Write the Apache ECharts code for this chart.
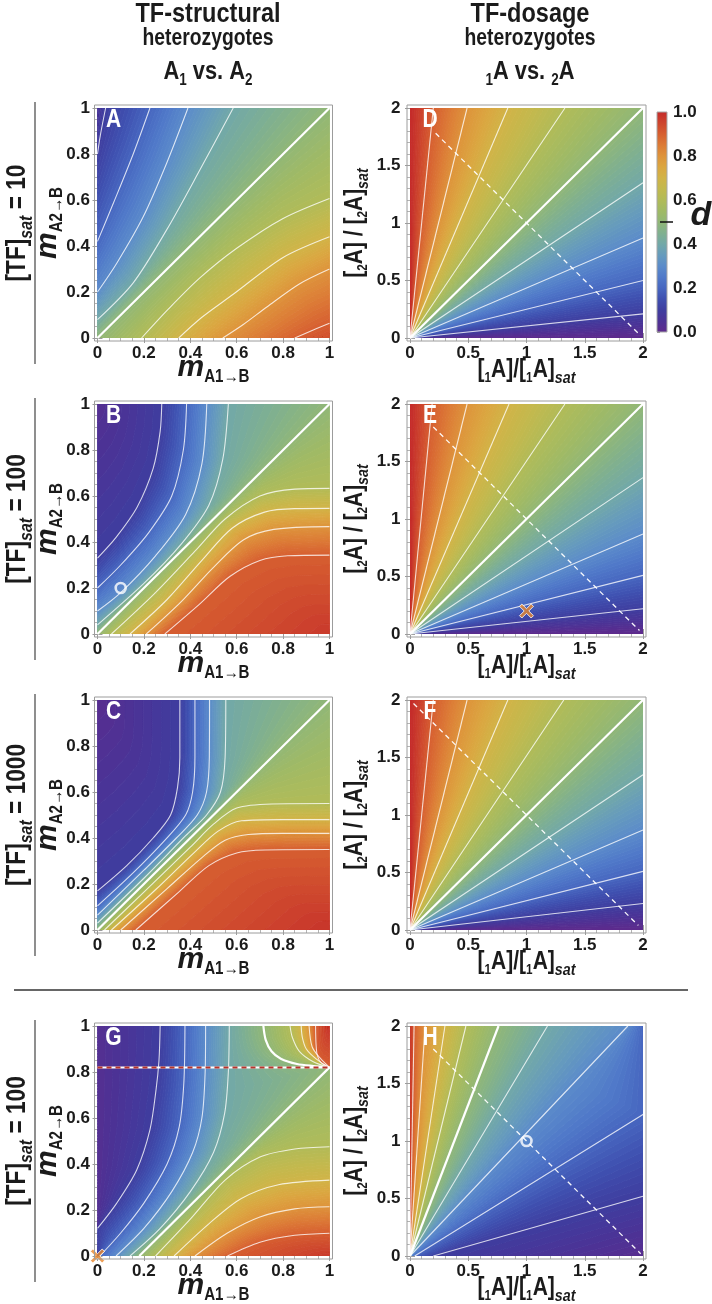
<!DOCTYPE html>
<html>
<head>
<meta charset="utf-8">
<script src="https://cdn.jsdelivr.net/npm/echarts@6.0.0/dist/echarts.min.js"></script>
<style>
html,body{margin:0;padding:0;background:#ffffff;}
#chart{width:712px;height:1304px;}
</style>
</head>
<body>
<div id="chart"></div>
<script>
// ================= DATA =================
const rowTFsat = ['10', '100', '1000', '100'];
const panelLetters = ['A', 'D', 'B', 'E', 'C', 'F', 'G', 'H'];
const structuralTicks = [0, 0.2, 0.4, 0.6, 0.8, 1];
const dosageTicks = [0, 0.5, 1, 1.5, 2];
const colorbarTicks = [0, 0.2, 0.4, 0.6, 0.8, 1.0];
const colorbarMark = 0.5;

// Each panel: ordered iso-boundaries of d (level list) and their polylines [x, y].
// Single points are corners, polylines at non-contour levels are panel edges.
const A_levels = [0.06, 0.1, 0.2, 0.3, 0.4, 0.5, 0.6, 0.7, 0.8, 0.9, 0.93];
const A_curves = [
  [[0, 1]],
  [[0, 0.80], [0.012, 0.88], [0.035, 1]],
  [[0, 0.42], [0.07, 0.59], [0.154, 0.80], [0.226, 1]],
  [[0, 0.20], [0.083, 0.325], [0.197, 0.527], [0.298, 0.76], [0.39, 1]],
  [[0, 0.08], [0.154, 0.24], [0.298, 0.47], [0.441, 0.73], [0.585, 1]],
  [[0, 0], [1, 1]],
  [[0.19, 0], [0.3, 0.12], [0.44, 0.26], [0.6, 0.39], [0.8, 0.52], [1, 0.607]],
  [[0.35, 0], [0.45, 0.09], [0.585, 0.19], [0.8, 0.35], [1, 0.44]],
  [[0.54, 0], [0.63, 0.06], [0.73, 0.135], [0.87, 0.235], [1, 0.30]],
  [[0.85, 0], [0.93, 0.035], [1, 0.064]],
  [[1, 0]]
];

const B_levels = [0.03, 0.1, 0.2, 0.3, 0.4, 0.5, 0.6, 0.7, 0.8, 0.9, 0.97];
const B_curves = [
  [[0, 1]],
  [[0, 0.33], [0.08, 0.42], [0.17, 0.55], [0.24, 0.72], [0.27, 0.88], [0.277, 1]],
  [[0, 0.20], [0.1, 0.30], [0.22, 0.44], [0.32, 0.60], [0.37, 0.80], [0.384, 1]],
  [[0, 0.10], [0.1, 0.18], [0.25, 0.34], [0.38, 0.52], [0.45, 0.74], [0.471, 1]],
  [[0, 0.04], [0.2, 0.22], [0.36, 0.39], [0.48, 0.56], [0.54, 0.76], [0.564, 1]],
  [[0, 0], [1, 1]],
  [[0.06, 0], [0.25, 0.18], [0.42, 0.36], [0.55, 0.50], [0.7, 0.60], [0.85, 0.63], [1, 0.633]],
  [[0.14, 0], [0.3, 0.15], [0.45, 0.32], [0.58, 0.46], [0.72, 0.53], [0.85, 0.545], [1, 0.546]],
  [[0.21, 0], [0.36, 0.14], [0.5, 0.29], [0.63, 0.41], [0.76, 0.455], [1, 0.467]],
  [[0.29, 0], [0.44, 0.13], [0.57, 0.25], [0.7, 0.32], [0.82, 0.34], [1, 0.343]],
  [[1, 0]]
];
const B_marker = [[0.1, 0.2]];

const C_levels = [0.02, 0.1, 0.2, 0.3, 0.4, 0.5, 0.6, 0.7, 0.8, 0.9, 0.98];
const C_curves = [
  [[0, 1]],
  [[0, 0.17], [0.126, 0.28], [0.24, 0.40], [0.315, 0.50], [0.345, 0.62], [0.355, 0.75], [0.355, 1]],
  [[0, 0.105], [0.15, 0.245], [0.29, 0.39], [0.38, 0.50], [0.41, 0.60], [0.42, 0.75], [0.42, 1]],
  [[0, 0.065], [0.2, 0.26], [0.34, 0.40], [0.43, 0.50], [0.47, 0.60], [0.482, 0.75], [0.483, 1]],
  [[0, 0.03], [0.2, 0.225], [0.38, 0.41], [0.47, 0.50], [0.53, 0.60], [0.55, 0.75], [0.553, 1]],
  [[0, 0], [1, 1]],
  [[0.03, 0], [0.2, 0.165], [0.4, 0.36], [0.5, 0.46], [0.6, 0.53], [0.75, 0.548], [1, 0.55]],
  [[0.06, 0], [0.25, 0.175], [0.42, 0.34], [0.52, 0.43], [0.62, 0.475], [0.8, 0.48], [1, 0.48]],
  [[0.10, 0], [0.3, 0.18], [0.45, 0.315], [0.55, 0.39], [0.65, 0.415], [0.8, 0.42], [1, 0.42]],
  [[0.165, 0], [0.35, 0.165], [0.48, 0.28], [0.6, 0.335], [0.72, 0.348], [1, 0.35]],
  [[1, 0]]
];

// Panel G: left part, lower-right part and upper-right corner part
const G_left_levels = [0.03, 0.1, 0.2, 0.3, 0.4];
const G_left_curves = [
  [[0, 0.12], [0, 1]],
  [[0, 0.12], [0.083, 0.23], [0.169, 0.374], [0.226, 0.548], [0.252, 0.72], [0.265, 0.85], [0.27, 1]],
  [[0.01, 0], [0.1, 0.1], [0.2, 0.23], [0.3, 0.40], [0.352, 0.56], [0.372, 0.75], [0.377, 1]],
  [[0.08, 0], [0.2, 0.12], [0.32, 0.28], [0.41, 0.45], [0.45, 0.60], [0.464, 0.80], [0.466, 1]],
  [[0.14, 0], [0.27, 0.12], [0.4, 0.28], [0.5, 0.45], [0.548, 0.62], [0.564, 0.80], [0.568, 1]]
];
const G_diag05 = [[0.18, 0], [1, 0.82]];
const G_top05 = [[1, 0.82], [0.93, 0.826], [0.86, 0.835], [0.79, 0.858], [0.75, 0.89], [0.725, 0.94], [0.715, 1]];
const G_low_levels = [0.6, 0.7, 0.8, 0.9, 0.97];
const G_low_curves = [
  [[0.25, 0], [0.4, 0.16], [0.55, 0.33], [0.7, 0.43], [0.85, 0.465], [1, 0.475]],
  [[0.33, 0], [0.48, 0.14], [0.62, 0.25], [0.78, 0.31], [1, 0.33]],
  [[0.42, 0], [0.56, 0.10], [0.7, 0.17], [0.85, 0.205], [1, 0.214]],
  [[0.56, 0], [0.7, 0.06], [0.85, 0.09], [1, 0.099]],
  [[1, 0]]
];
const G_up_levels = [0.6, 0.7, 0.8, 0.9, 0.98];
const G_up_curves = [
  [[1, 0.82], [0.93, 0.845], [0.87, 0.89], [0.84, 0.95], [0.83, 1]],
  [[1, 0.82], [0.945, 0.855], [0.9, 0.9], [0.883, 0.95], [0.878, 1]],
  [[1, 0.82], [0.96, 0.86], [0.925, 0.91], [0.912, 1]],
  [[1, 0.82], [0.965, 0.84], [0.948, 0.87], [0.942, 0.92], [0.94, 1]],
  [[1, 1]]
];
const G_dash = [[0, 0.82], [1, 0.82]];
const G_marker = [[0, 0]];

const D_levels = [0, 0.1, 0.2, 0.3, 0.4, 0.5, 0.6, 0.7, 0.8, 0.9, 1];
const D_curves = [
  [[0, 0], [2, 0]], [[0, 0], [2, 0.21]], [[0, 0], [2, 0.50]], [[0, 0], [2, 0.87]], [[0, 0], [2, 1.35]],
  [[0, 0], [2, 2]], [[0, 0], [1.33, 2]], [[0, 0], [0.84, 2]], [[0, 0], [0.49, 2]], [[0, 0], [0.20, 2]], [[0, 0], [0, 2]]
];
const D_dash = [[0.22, 1.78], [1.97, 0.03]];

const E_levels = [0, 0.1, 0.2, 0.3, 0.4, 0.5, 0.6, 0.7, 0.8, 0.9, 1];
const E_curves = [
  [[0, 0], [2, 0]], [[0, 0], [2, 0.22]], [[0, 0], [2, 0.51]], [[0, 0], [2, 0.87]], [[0, 0], [2, 1.36]],
  [[0, 0], [2, 2]], [[0, 0], [1.33, 2]], [[0, 0], [0.85, 2]], [[0, 0], [0.49, 2]], [[0, 0], [0.19, 2]], [[0, 0], [0, 2]]
];
const E_dash = [[0.2, 1.8], [1.97, 0.03]];
const E_marker = [[1.0, 0.2]];

const F_levels = [0, 0.1, 0.2, 0.3, 0.4, 0.5, 0.6, 0.7, 0.8, 0.9, 1];
const F_curves = [
  [[0, 0], [2, 0]], [[0, 0], [2, 0.23]], [[0, 0], [2, 0.51]], [[0, 0], [2, 0.87]], [[0, 0], [2, 1.35]],
  [[0, 0], [2, 2]], [[0, 0], [1.32, 2]], [[0, 0], [0.84, 2]], [[0, 0], [0.49, 2]], [[0, 0], [0.20, 2]], [[0, 0], [0, 2]]
];
const F_dash = [[0.03, 1.97], [1.96, 0.04]];

const H_levels = [0.02, 0.1, 0.2, 0.3, 0.4, 0.5, 0.6, 0.7, 0.8, 0.9, 0.97];
const H_curves = [
  [[2, 0]],
  [[0.2, 0], [2, 0.52]], [[0.04, 0], [2, 1.23]], [[0, 0], [1.87, 2]], [[0, 0], [1.18, 2]],
  [[0, 0], [0.76, 2]], [[0, 0], [0.48, 2]], [[0, 0], [0.30, 2]], [[0, 0], [0.13, 2]], [[0, 0], [0.035, 2]],
  [[0, 0], [0, 2]]
];
const H_dash = [[0.2, 1.8], [1.98, 0.02]];
const H_marker = [[1, 1]];

// ================= STYLE =================
const FN = '"Liberation Sans Narrow","Arial Narrow","Liberation Sans",Arial,sans-serif';
const FW = '"Liberation Sans",Arial,sans-serif';
const CMAP = [
  [0.00, '#5f2a8c'], [0.05, '#4d3295'], [0.10, '#3f3d9f'], [0.15, '#3f4faf'], [0.20, '#4766c0'],
  [0.25, '#5079c9'], [0.30, '#5b8bca'], [0.35, '#669bbd'], [0.40, '#72a8a8'], [0.45, '#80b08f'],
  [0.50, '#91b777'], [0.55, '#a0ba65'], [0.60, '#b1bb58'], [0.65, '#c2b94e'], [0.70, '#d1b347'],
  [0.75, '#dba640'], [0.80, '#de933b'], [0.85, '#dc7a36'], [0.90, '#d65e30'], [0.95, '#cd442d'],
  [1.00, '#c42a2a']
];
function hexRgb(h) { return [1, 3, 5].map(i => parseInt(h.substr(i, 2), 16)); }
const CMAP_RGB = CMAP.map(s => [s[0], hexRgb(s[1])]);
function cmap(v) {
  v = Math.max(0, Math.min(1, v));
  for (let i = 1; i < CMAP_RGB.length; i++) {
    if (v <= CMAP_RGB[i][0]) {
      const a = CMAP_RGB[i - 1], b = CMAP_RGB[i];
      const f = (v - a[0]) / (b[0] - a[0]);
      const c = a[1].map((x, k) => Math.round(x + (b[1][k] - x) * f));
      return 'rgb(' + c.join(',') + ')';
    }
  }
  return CMAP[CMAP.length - 1][1];
}

// ================= GEOMETRY HELPERS (rendering only) =================
function perimT(p, W, H) {
  const e = 1e-9, x = p[0], y = p[1];
  if (Math.abs(y) < e) return x / W;
  if (Math.abs(x - W) < e) return 1 + y / H;
  if (Math.abs(y - H) < e) return 2 + (W - x) / W;
  if (Math.abs(x) < e) return 3 + (H - y) / H;
  return null;
}
const mod4 = v => ((v % 4) + 4) % 4;
function arcCorners(t1, t2, avoid, W, H) {
  if (t1 === null || t2 === null) return [];
  const L = mod4(t2 - t1);
  if (L < 1e-9 || L > 4 - 1e-9) return [];
  const eps = 1e-7;
  const insideCCW = t => { const d = mod4(t - t1); return d > eps && d < L - eps; };
  const ccw = !avoid.some(t => t !== null && insideCCW(t));
  const cp = [[0, 0], [W, 0], [W, H], [0, H]];
  const res = [];
  if (ccw) {
    for (let c = 0; c < 4; c++) { const d = mod4(c - t1); if (d > eps && d < L - eps) res.push([d, c]); }
  } else {
    const Lc = mod4(t1 - t2);
    for (let c = 0; c < 4; c++) { const d = mod4(t1 - c); if (d > eps && d < Lc - eps) res.push([d, c]); }
  }
  res.sort((p, q) => p[0] - q[0]);
  return res.map(r => cp[r[1]]);
}
function resample(pts, n, sx, sy) {
  if (pts.length === 1) return Array.from({ length: n }, () => pts[0].slice());
  const cum = [0];
  for (let i = 1; i < pts.length; i++) {
    cum.push(cum[i - 1] + Math.hypot((pts[i][0] - pts[i - 1][0]) / sx, (pts[i][1] - pts[i - 1][1]) / sy));
  }
  const L = cum[cum.length - 1];
  const out = [];
  let seg = 1;
  for (let k = 0; k < n; k++) {
    const t = L * k / (n - 1);
    while (seg < pts.length - 1 && cum[seg] < t) seg++;
    const span = (cum[seg] - cum[seg - 1]) || 1;
    const f = Math.max(0, Math.min(1, (t - cum[seg - 1]) / span));
    out.push([pts[seg - 1][0] + (pts[seg][0] - pts[seg - 1][0]) * f,
              pts[seg - 1][1] + (pts[seg][1] - pts[seg - 1][1]) * f]);
  }
  return out;
}
function makeBand(a, b, la, lb, W, H) {
  const sa = a[0], ea = a[a.length - 1], sb = b[0], eb = b[b.length - 1];
  const tsa = perimT(sa, W, H), tea = perimT(ea, W, H), tsb = perimT(sb, W, H), teb = perimT(eb, W, H);
  const sc = arcCorners(tsa, tsb, [tea, teb], W, H);
  const ec = arcCorners(tea, teb, [tsa, tsb], W, H);
  const a2 = sc.slice().reverse().concat(a, ec);
  const N = 70;
  return {
    A: resample(a2, N, W, H), B: resample(b, N, W, H), la, lb,
    M: Math.max(1, Math.ceil(Math.abs(lb - la) * 110))
  };
}
function isContour(l) { const r = Math.round(l * 10); return Math.abs(l * 10 - r) < 1e-6 && r >= 1 && r <= 9; }

// text measuring for composite (sub/superscript) labels
const mctx = document.createElement('canvas').getContext('2d');
function tw(t, f) { mctx.font = f; return mctx.measureText(t).width; }
const probe = 'TF-structural heterozygotes';
const hasNarrow = tw(probe, 'bold 20px "Liberation Sans Narrow", monospace') !== tw(probe, 'bold 20px monospace');
const NS = hasNarrow ? 1 : 0.84;   // emulate a condensed face if no narrow font is installed

function label(pieces, x, y, rot, color, z) {
  const zz = z || 50;
  const fonts = pieces.map(p => (p.i ? 'italic ' : '') + 'bold ' + p.s + 'px ' + (p.f || FN));
  const sx = pieces.map(p => (p.f === FW ? 1 : NS));
  const ws = pieces.map((p, k) => tw(p.t, fonts[k]) * sx[k]);
  const total = ws.reduce((s, v) => s + v, 0);
  let cx = -total / 2;
  const children = pieces.map((p, k) => {
    const el = {
      type: 'text', x: cx, y: (p.dy || 0) - 0.35 * p.s, scaleX: sx[k], z: zz,
      style: { text: p.t, font: fonts[k], fill: color || '#1b1b1b', align: 'left', verticalAlign: 'middle',
               textAlign: 'left', textVerticalAlign: 'middle' }
    };
    cx += ws[k];
    return el;
  });
  return { type: 'group', x, y, rotation: rot || 0, children, z: zz };
}

// ================= LAYOUT =================
const TOPS = [108, 404, 700, 1026];
const PH = 230;
const COLS = [{ left: 97.5, width: 232 }, { left: 410, width: 233 }];

const panels = [
  { row: 0, col: 0, W: 1, H: 1, seqs: [[A_levels, A_curves]] },
  { row: 0, col: 1, W: 2, H: 2, seqs: [[D_levels, D_curves]], dash: D_dash },
  { row: 1, col: 0, W: 1, H: 1, seqs: [[B_levels, B_curves]], marker: B_marker, mtype: 'o' },
  { row: 1, col: 1, W: 2, H: 2, seqs: [[E_levels, E_curves]], dash: E_dash, marker: E_marker, mtype: 'x' },
  { row: 2, col: 0, W: 1, H: 1, seqs: [[C_levels, C_curves]] },
  { row: 2, col: 1, W: 2, H: 2, seqs: [[F_levels, F_curves]], dash: F_dash },
  { row: 3, col: 0, W: 1, H: 1, seqs: [
      [G_left_levels.concat([0.5]), G_left_curves.concat([G_diag05.concat(G_top05.slice(1))]), 'noLast'],
      [[0.5].concat(G_low_levels), [G_diag05].concat(G_low_curves)],
      [[0.5].concat(G_up_levels), [G_top05].concat(G_up_curves)]
    ], gdash: G_dash, marker: G_marker, mtype: 'x' },
  { row: 3, col: 1, W: 2, H: 2, seqs: [[H_levels, H_curves]], dash: H_dash, marker: H_marker, mtype: 'o' }
];

const grids = [], xAxes = [], yAxes = [], series = [], graphics = [];
const XPATH = 'path://M0,2 L2,0 L6,4 L10,0 L12,2 L8,6 L12,10 L10,12 L6,8 L2,12 L0,10 L4,6 Z';

function axisCfg(k, pos, ticks, showLabel, margin) {
  const iv = ticks[1] - ticks[0];
  return {
    type: 'value', gridIndex: k, position: pos, min: ticks[0], max: ticks[ticks.length - 1], interval: iv,
    offset: 3,
    axisLine: { show: false },
    axisTick: { show: true, inside: true, length: 5, lineStyle: { color: '#9c9c9c', width: 1 } },
    minorTick: { show: true, splitNumber: iv === 0.2 ? 4 : 5, length: 3, lineStyle: { color: '#b4b4b4', width: 1 } },
    splitLine: { show: false }, minorSplitLine: { show: false },
    axisLabel: {
      show: showLabel, margin, color: '#1b1b1b', fontSize: 17, fontWeight: 'bold', fontFamily: FN,
      formatter: v => String(+(+v).toFixed(2)), showMinLabel: true, showMaxLabel: true, hideOverlap: false
    }
  };
}

panels.forEach((p, k) => {
  const col = COLS[p.col];
  const top = TOPS[p.row];
  grids.push({ left: col.left, top, width: col.width, height: PH, outerBoundsMode: 'none', containLabel: false });
  const ticks = p.col === 0 ? structuralTicks : dosageTicks;
  xAxes.push(axisCfg(k, 'bottom', ticks, true, 3.5));
  xAxes.push(axisCfg(k, 'top', ticks, false, 4));
  yAxes.push(axisCfg(k, 'left', ticks, true, p.col === 0 ? 4.5 : 6.5));
  yAxes.push(axisCfg(k, 'right', ticks, false, 4));
  const xi = 2 * k, yi = 2 * k;

  // filled bands between consecutive iso-boundaries
  const bands = [];
  p.seqs.forEach(sq => {
    const lv = sq[0], cv = sq[1];
    for (let i = 0; i + 1 < cv.length; i++) bands.push(makeBand(cv[i], cv[i + 1], lv[i], lv[i + 1], p.W, p.H));
  });
  series.push({
    type: 'custom', xAxisIndex: xi, yAxisIndex: yi, clip: true, silent: true, z: 1,
    data: bands.map((b, i) => [p.W / 2, p.H / 2, i]),
    renderItem: (params, api) => {
      const band = bands[params.dataIndex];
      const children = [];
      for (let j = 0; j < band.M; j++) {
        const t0 = j / band.M, t1 = (j + 1) / band.M;
        const col = cmap(band.la + (band.lb - band.la) * (j + 0.5) / band.M);
        const pts = [];
        for (let i = 0; i < band.A.length; i++) {
          const a = band.A[i], b = band.B[i];
          pts.push(api.coord([a[0] + (b[0] - a[0]) * t0, a[1] + (b[1] - a[1]) * t0]));
        }
        for (let i = band.A.length - 1; i >= 0; i--) {
          const a = band.A[i], b = band.B[i];
          pts.push(api.coord([a[0] + (b[0] - a[0]) * t1, a[1] + (b[1] - a[1]) * t1]));
        }
        children.push({ type: 'polygon', shape: { points: pts }, style: { fill: col, stroke: col, lineWidth: 0.9 } });
      }
      return { type: 'group', children };
    }
  });

  // contour lines
  p.seqs.forEach(sq => {
    const lv = sq[0], cv = sq[1];
    cv.forEach((c, i) => {
      if (c.length < 2 || !isContour(lv[i])) return;
      if (sq[2] === 'noLast' && i === cv.length - 1) return;
      const thick = Math.abs(lv[i] - 0.5) < 1e-6;
      series.push({
        type: 'line', xAxisIndex: xi, yAxisIndex: yi, data: c, symbol: 'none', showSymbol: false,
        smooth: c.length > 2 ? 0.3 : false, clip: true, silent: true, z: 3,
        lineStyle: { color: thick ? '#ffffff' : 'rgba(255,255,255,0.78)', width: thick ? 2.2 : 1.1 }
      });
    });
  });

  if (p.dash) {
    series.push({
      type: 'line', xAxisIndex: xi, yAxisIndex: yi, data: p.dash, symbol: 'none', clip: true, silent: true, z: 4,
      lineStyle: { color: 'rgba(255,255,255,0.95)', width: 1.3, type: [5, 4] }
    });
  }
  if (p.gdash) {
    series.push({
      type: 'line', xAxisIndex: xi, yAxisIndex: yi, data: p.gdash, symbol: 'none', clip: true, silent: true, z: 4,
      lineStyle: { color: '#ffffff', width: 2 }
    });
    series.push({
      type: 'line', xAxisIndex: xi, yAxisIndex: yi, data: p.gdash, symbol: 'none', clip: true, silent: true, z: 5,
      lineStyle: { color: '#b8352c', width: 2, type: [5, 4] }
    });
  }
  if (p.marker) {
    series.push(p.mtype === 'o' ? {
      type: 'scatter', xAxisIndex: xi, yAxisIndex: yi, data: p.marker, symbol: 'circle', symbolSize: 10,
      silent: true, z: 6, clip: false,
      itemStyle: { color: 'rgba(0,0,0,0)', borderColor: '#ffffff', borderWidth: 2.6 }
    } : {
      type: 'scatter', xAxisIndex: xi, yAxisIndex: yi, data: p.marker, symbol: XPATH, symbolSize: 14,
      silent: true, z: 6, clip: false,
      itemStyle: { color: '#e8862c', borderColor: '#ffffff', borderWidth: 1 }
    });
  }

  // frame
  graphics.push({
    type: 'rect', shape: { x: col.left - 3, y: top - 3, width: col.width + 6, height: PH + 6 },
    style: { fill: 'none', stroke: '#9c9c9c', lineWidth: 1 }, z: 40, silent: true
  });
  // panel letter
  graphics.push(label([{ t: panelLetters[k], s: 25 }], col.left + (p.col === 0 ? 16 : 20), top + 21, 0, '#ffffff', 60));
  // axis titles
  const bottom = top + PH, midY = top + PH / 2, midX = col.left + col.width / 2;
  if (p.col === 0) {
    graphics.push(label([{ t: 'm', s: 30, i: true, f: FW }, { t: 'A1\u2192B', s: 18, dy: 5 }], midX, bottom + 40, 0));
    graphics.push(label([{ t: 'm', s: 30, i: true, f: FW }, { t: 'A2\u2192B', s: 18, dy: 5 }], 58, midY, Math.PI / 2));
  } else {
    graphics.push(label([
      { t: '[', s: 25 }, { t: '1', s: 14, dy: 4 }, { t: 'A]/[', s: 25 }, { t: '1', s: 14, dy: 4 }, { t: 'A]', s: 25 },
      { t: 'sat', s: 17, i: true, dy: 5 }
    ], midX, bottom + 41, 0));
    graphics.push(label([
      { t: '[', s: 25 }, { t: '2', s: 14, dy: 4 }, { t: 'A] / [', s: 25 }, { t: '2', s: 14, dy: 4 }, { t: 'A]', s: 25 },
      { t: 'sat', s: 17, i: true, dy: 5 }
    ], 364, midY, Math.PI / 2));
  }
});

// colour bar
const cbK = panels.length;
grids.push({ left: 657, top: 112, width: 10, height: 220, outerBoundsMode: 'none', containLabel: false });
xAxes.push({ type: 'value', gridIndex: cbK, min: 0, max: 1, show: false });
yAxes.push({
  type: 'value', gridIndex: cbK, position: 'right', min: colorbarTicks[0], max: colorbarTicks[colorbarTicks.length - 1],
  interval: colorbarTicks[1] - colorbarTicks[0],
  axisLine: { show: false }, splitLine: { show: false },
  axisTick: { show: true, length: 3, lineStyle: { color: '#8a8a8a' } },
  axisLabel: { margin: 6, color: '#1b1b1b', fontSize: 17, fontWeight: 'bold', fontFamily: FN, formatter: v => (+v).toFixed(1) }
});
series.push({
  type: 'custom', xAxisIndex: 2 * cbK, yAxisIndex: 2 * cbK, silent: true, z: 2, clip: false,
  data: [[0.5, colorbarMark]],
  renderItem: (params, api) => {
    const p0 = api.coord([0, 0]), p1 = api.coord([1, 1]);
    const m = api.coord([0, api.value(1)]);
    return {
      type: 'group', children: [
        { type: 'rect', shape: { x: p0[0], y: p1[1], width: p1[0] - p0[0], height: p0[1] - p1[1] },
          style: { fill: { type: 'linear', x: 0, y: 1, x2: 0, y2: 0, colorStops: CMAP.map(s => ({ offset: s[0], color: s[1] })) },
                   stroke: '#a8a8a8', lineWidth: 1 } },
        { type: 'line', shape: { x1: p0[0] + 3, y1: m[1], x2: p1[0] + 6, y2: m[1] }, style: { stroke: '#111', lineWidth: 1.5 } }
      ]
    };
  }
});
xAxes.push({ type: 'value', gridIndex: cbK, min: 0, max: 1, show: false });
yAxes.push({ type: 'value', gridIndex: cbK, min: 0, max: 1, show: false });
graphics.push({
  type: 'text', x: 701, y: 216,
  style: { text: 'd', font: 'italic bold 34px ' + FW, fill: '#1b1b1b', align: 'center', verticalAlign: 'middle',
           textAlign: 'center', textVerticalAlign: 'middle' }, z: 45
});

// column headers
[[208, 'TF-structural', [{ t: 'A', s: 26 }, { t: '1', s: 16, dy: 5 }, { t: ' vs. A', s: 26 }, { t: '2', s: 16, dy: 5 }]],
 [530, 'TF-dosage', [{ t: '1', s: 16, dy: 5 }, { t: 'A vs. ', s: 26 }, { t: '2', s: 16, dy: 5 }, { t: 'A', s: 26 }]]
].forEach(h => {
  graphics.push(label([{ t: h[1], s: 28 }], h[0], 24, 0));
  graphics.push(label([{ t: 'heterozygotes', s: 23 }], h[0], 47, 0));
  graphics.push(label(h[2], h[0], 81, 0));
});

// row labels and rules
rowTFsat.forEach((v, r) => {
  const top = TOPS[r];
  graphics.push(label([{ t: '[TF]', s: 27 }, { t: 'sat', s: 19, i: true, dy: 6 }, { t: ' = ' + v, s: 27 }], 27, top + PH / 2, Math.PI / 2));
  graphics.push({ type: 'line', shape: { x1: 35, y1: top - 6, x2: 35, y2: top + PH + 26 }, style: { stroke: '#444', lineWidth: 1.2 }, z: 30 });
});
graphics.push({ type: 'line', shape: { x1: 14, y1: 990, x2: 688, y2: 990 }, style: { stroke: '#333', lineWidth: 1.6 }, z: 30 });

const chart = echarts.init(document.getElementById('chart'), null, { renderer: 'canvas' });
chart.setOption({
  animation: false,
  backgroundColor: '#ffffff',
  tooltip: { show: false },
  grid: grids, xAxis: xAxes, yAxis: yAxes, series,
  graphic: { elements: graphics }
});
</script>
</body>
</html>
